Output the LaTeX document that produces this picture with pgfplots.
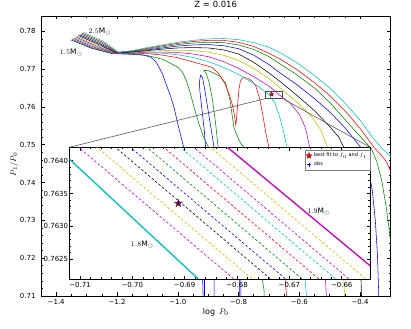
\documentclass[border=0pt]{standalone}
\usepackage{fontspec}
\setmainfont{DejaVu Sans}
\usepackage{pgfplots}
\pgfplotsset{compat=1.18}

\definecolor{mb}{rgb}{0,0,1}
\definecolor{mg}{rgb}{0,0.5,0}
\definecolor{mr}{rgb}{1,0,0}
\definecolor{mc}{rgb}{0,0.75,0.75}
\definecolor{mm}{rgb}{0.75,0,0.75}
\definecolor{my}{rgb}{0.75,0.75,0}
\definecolor{mk}{rgb}{0,0,0}

% filled five-point star
\pgfdeclareplotmark{fstar}{%
  \pgfpathmoveto{\pgfpointpolar{90}{\pgfplotmarksize}}%
  \pgfpathlineto{\pgfpointpolar{126}{0.4\pgfplotmarksize}}%
  \pgfpathlineto{\pgfpointpolar{162}{\pgfplotmarksize}}%
  \pgfpathlineto{\pgfpointpolar{198}{0.4\pgfplotmarksize}}%
  \pgfpathlineto{\pgfpointpolar{234}{\pgfplotmarksize}}%
  \pgfpathlineto{\pgfpointpolar{270}{0.4\pgfplotmarksize}}%
  \pgfpathlineto{\pgfpointpolar{306}{\pgfplotmarksize}}%
  \pgfpathlineto{\pgfpointpolar{342}{0.4\pgfplotmarksize}}%
  \pgfpathlineto{\pgfpointpolar{18}{\pgfplotmarksize}}%
  \pgfpathlineto{\pgfpointpolar{54}{0.4\pgfplotmarksize}}%
  \pgfpathclose
  \pgfusepathqfillstroke}

\pgfplotsset{
  mplax/.style={
    scale only axis,
    anchor=south west,
    tick align=inside,
    major tick length=3.5bp,
    minor tick length=2bp,
    tick style={black, line width=0.5pt},
    axis line style={black, line width=0.8pt},
    ticklabel style={font=\fontsize{7}{8}\selectfont},
  },
  trk/.style={line width=0.55pt},
}

\begin{document}
\begin{tikzpicture}
\path[use as bounding box] (0,0) rectangle (411bp,329bp);

\begin{axis}[mplax, name=main,
  at={(41bp,33bp)}, width=349.5bp, height=280bp,
  xmin=-1.45, xmax=-0.30, ymin=0.71, ymax=0.78405,
  xtick={-1.4,-1.2,-1.0,-0.8,-0.6,-0.4},
  xticklabels={−1.4,−1.2,−1.0,−0.8,−0.6,−0.4},
  ytick={0.71,0.72,0.73,0.74,0.75,0.76,0.77,0.78},
  yticklabels={0.71,0.72,0.73,0.74,0.75,0.76,0.77,0.78},
  yticklabel style={xshift=-2bp},
  minor x tick num=3, minor y tick num=4,
  title={Z = 0.016},
  title style={font=\fontsize{8.5}{9}\selectfont, at={(0.5,1)}, anchor=base, yshift=2.5bp},
  xlabel={$\log\ P_0$},
  xlabel style={at={(axis description cs:0.5,-0.058)}, anchor=center, font=\fontsize{8}{9}\selectfont},
  ylabel={$P_1/P_0$},
  ylabel style={at={(axis description cs:-0.077,0.47)}, anchor=center, font=\fontsize{8.5}{9}\selectfont},
]
% 1.5
\addplot[trk, mb] coordinates {(-1.351,0.7777) (-1.283,0.7755) (-1.215,0.7741) (-1.15,0.7739) (-1.113,0.7737) (-1.0897,0.7732) (-1.0731,0.7721) (-1.0616,0.7705) (-1.05,0.7687) (-1.0368,0.7657) (-1.0236,0.7628) (-1.0127,0.7600) (-0.9971,0.7546) (-0.9796,0.7490) (-0.95,0.7350) (-0.93,0.7220) (-0.918,0.7140) (-0.915,0.7050) (-0.912,0.7050) (-0.912,0.7200) (-0.908,0.7490) (-0.913,0.7540) (-0.919,0.7583) (-0.927,0.7640) (-0.929,0.7665) (-0.925,0.7684) (-0.919,0.7679) (-0.911,0.7645) (-0.902,0.7600) (-0.892,0.7550) (-0.880,0.7490) (-0.880,0.7200) (-0.881,0.7050) (-0.797,0.7050) (-0.797,0.7250) (-0.793,0.7250) (-0.792,0.7050)};
% 1.6
\addplot[trk, mg] coordinates {(-1.347,0.7779) (-1.280,0.7756) (-1.213,0.7741) (-1.15,0.7741) (-1.10,0.7736) (-1.05,0.7726) (-1.023,0.7715) (-1.00,0.7705) (-0.985,0.7693) (-0.972,0.7670) (-0.96,0.7640) (-0.945,0.7595) (-0.93,0.7555) (-0.915,0.7520) (-0.897,0.7490) (-0.88,0.7450) (-0.862,0.7450) (-0.864,0.7472) (-0.868,0.7500) (-0.876,0.7560) (-0.886,0.7620) (-0.897,0.7665) (-0.906,0.7688) (-0.914,0.7697) (-0.900,0.7696) (-0.885,0.7691) (-0.859,0.7680) (-0.842,0.7662) (-0.828,0.7617) (-0.815,0.7545) (-0.798,0.7511) (-0.781,0.7490) (-0.75,0.7300) (-0.725,0.7160) (-0.716,0.7115) (-0.714,0.7050)};
% 1.7
\addplot[trk, mr] coordinates {(-1.343,0.7781) (-1.277,0.7758) (-1.211,0.7742) (-1.15,0.7742) (-1.10,0.7741) (-1.05,0.7737) (-1.00,0.7730) (-0.95,0.7719) (-0.91,0.7710) (-0.886,0.7704) (-0.865,0.7688) (-0.845,0.7662) (-0.83,0.7632) (-0.820,0.7605) (-0.813,0.7575) (-0.809,0.7552) (-0.806,0.7575) (-0.803,0.7605) (-0.799,0.7645) (-0.794,0.7668) (-0.785,0.7678) (-0.77,0.7676) (-0.755,0.7668) (-0.743,0.7655) (-0.73,0.7620) (-0.72,0.7578) (-0.71,0.7530) (-0.70,0.7494) (-0.685,0.7420) (-0.67,0.7330) (-0.657,0.7240) (-0.648,0.7160) (-0.643,0.7110) (-0.641,0.7050)};
% 1.8
\addplot[trk, mc] coordinates {(-1.339,0.7783) (-1.274,0.7760) (-1.209,0.7742) (-1.15,0.7742) (-1.10,0.7743) (-1.05,0.7742) (-1.00,0.7738) (-0.95,0.7731) (-0.90,0.7720) (-0.85,0.7705) (-0.80,0.7686) (-0.75,0.7662) (-0.72,0.7645) (-0.70,0.7632) (-0.68,0.7610) (-0.665,0.7575) (-0.652,0.7535) (-0.641,0.7494) (-0.625,0.7420) (-0.608,0.7320) (-0.593,0.7230) (-0.583,0.7160) (-0.577,0.7105) (-0.575,0.7050)};
% 1.9
\addplot[trk, mm] coordinates {(-1.335,0.7785) (-1.270,0.7762) (-1.207,0.7742) (-1.15,0.7743) (-1.10,0.7745) (-1.05,0.7745) (-1.00,0.7744) (-0.95,0.7740) (-0.90,0.7733) (-0.85,0.7720) (-0.80,0.7702) (-0.75,0.7680) (-0.70,0.7655) (-0.68,0.7642) (-0.66,0.7628) (-0.63,0.7610) (-0.60,0.7580) (-0.58,0.7545) (-0.566,0.7494) (-0.55,0.7430) (-0.535,0.7340) (-0.522,0.7240) (-0.515,0.7160) (-0.511,0.7100) (-0.510,0.7050)};
% 2.0
\addplot[trk, my] coordinates {(-1.331,0.7787) (-1.266,0.7764) (-1.205,0.7743) (-1.15,0.7744) (-1.10,0.7747) (-1.05,0.7749) (-1.00,0.7750) (-0.95,0.7749) (-0.90,0.7745) (-0.85,0.7737) (-0.80,0.7723) (-0.75,0.7702) (-0.70,0.7675) (-0.66,0.7648) (-0.61,0.7614) (-0.56,0.7575) (-0.53,0.7540) (-0.506,0.7490) (-0.49,0.7430) (-0.475,0.7350) (-0.463,0.7260) (-0.456,0.7180) (-0.452,0.7110) (-0.451,0.7050)};
% 2.1
\addplot[trk, mk] coordinates {(-1.327,0.7789) (-1.262,0.7766) (-1.203,0.7743) (-1.15,0.7745) (-1.10,0.7749) (-1.05,0.7753) (-1.00,0.7756) (-0.95,0.7757) (-0.90,0.7756) (-0.85,0.7751) (-0.80,0.7740) (-0.75,0.7718) (-0.70,0.7690) (-0.66,0.7665) (-0.61,0.7632) (-0.55,0.7590) (-0.50,0.7548) (-0.47,0.7520) (-0.452,0.7490) (-0.435,0.7440) (-0.42,0.7370) (-0.408,0.7280) (-0.400,0.7200) (-0.396,0.7120) (-0.394,0.7050)};
% 2.2
\addplot[trk, mb] coordinates {(-1.323,0.7791) (-1.258,0.7768) (-1.201,0.7743) (-1.15,0.7746) (-1.10,0.7751) (-1.05,0.7756) (-1.00,0.7761) (-0.95,0.7764) (-0.90,0.7765) (-0.85,0.7762) (-0.80,0.7754) (-0.75,0.7737) (-0.70,0.7712) (-0.66,0.7688) (-0.61,0.7660) (-0.55,0.7622) (-0.50,0.7587) (-0.45,0.7545) (-0.42,0.7515) (-0.395,0.7490) (-0.375,0.7445) (-0.36,0.7380) (-0.35,0.7300) (-0.343,0.7210) (-0.339,0.7110) (-0.337,0.7050)};
% 2.3
\addplot[trk, mg] coordinates {(-1.319,0.7793) (-1.254,0.7770) (-1.199,0.7744) (-1.15,0.7747) (-1.10,0.7753) (-1.05,0.7759) (-1.00,0.7765) (-0.95,0.7769) (-0.90,0.7771) (-0.85,0.7770) (-0.80,0.7764) (-0.75,0.7752) (-0.70,0.7733) (-0.66,0.7712) (-0.61,0.7686) (-0.55,0.7650) (-0.50,0.7612) (-0.45,0.7567) (-0.40,0.7522) (-0.363,0.7490) (-0.345,0.7455) (-0.329,0.7406) (-0.315,0.7340) (-0.307,0.7292) (-0.30,0.7247) (-0.295,0.7200)};
% 2.4
\addplot[trk, mr] coordinates {(-1.315,0.7795) (-1.250,0.7772) (-1.197,0.7744) (-1.15,0.7748) (-1.10,0.7755) (-1.05,0.7762) (-1.00,0.7768) (-0.95,0.7773) (-0.90,0.7776) (-0.85,0.7776) (-0.80,0.7771) (-0.75,0.7760) (-0.70,0.7742) (-0.66,0.7725) (-0.61,0.7700) (-0.55,0.7664) (-0.50,0.7630) (-0.45,0.7590) (-0.40,0.7543) (-0.352,0.7491) (-0.33,0.7472) (-0.313,0.7455) (-0.30,0.7430) (-0.29,0.7400)};
% 2.5
\addplot[trk, mc] coordinates {(-1.311,0.7797) (-1.246,0.7774) (-1.195,0.7745) (-1.15,0.7749) (-1.10,0.7757) (-1.05,0.7764) (-1.00,0.7771) (-0.95,0.7776) (-0.90,0.7780) (-0.85,0.7781) (-0.80,0.7778) (-0.75,0.7770) (-0.70,0.7758) (-0.66,0.7742) (-0.61,0.7718) (-0.55,0.7683) (-0.50,0.7650) (-0.45,0.7610) (-0.40,0.7565) (-0.36,0.7520) (-0.33,0.7492) (-0.30,0.7470) (-0.28,0.7440)};
% zoom box and best fit
\addplot[black!70, line width=0.7pt] coordinates {(-0.712,0.7622) (-0.6546,0.7622) (-0.6546,0.7642) (-0.712,0.7642) (-0.712,0.7622)};
\addplot[only marks, mark=fstar, mark size=2.4bp, mark options={fill=mr, draw=black!60!red, line width=0.3pt}] coordinates {(-0.6912,0.76335)};
\coordinate (rbl) at (axis cs:-0.712,0.7622);
\coordinate (rbr) at (axis cs:-0.6546,0.7622);
\node[font=\fontsize{7.5}{8}\selectfont] at (axis cs:-1.256,0.7798) {$2.5\mathrm{M}_{\odot}$};
\node[font=\fontsize{7.5}{8}\selectfont] at (axis cs:-1.351,0.7743) {$1.5\mathrm{M}_{\odot}$};
\end{axis}

\begin{axis}[mplax, name=ins,
  at={(69.3bp,50bp)}, width=300.7bp, height=131.7bp,
  axis background/.style={fill=white},
  xmin=-0.71204, xmax=-0.65459, ymin=0.76220, ymax=0.764204,
  xtick={-0.71,-0.70,-0.69,-0.68,-0.67,-0.66},
  xticklabels={−0.71,−0.70,−0.69,−0.68,−0.67,−0.66},
  ytick={0.7625,0.7630,0.7635,0.7640},
  yticklabels={0.7625,0.7630,0.7635,0.7640},
  yticklabel style={inner sep=1bp},
  minor x tick num=4, minor y tick num=4,
  legend cell align=left,
  legend style={at={(1,0.98)}, anchor=north east, font=\fontsize{5}{6}\selectfont,
    draw=black!50, inner sep=1bp, row sep=-0.5bp},
]
\addplot[forget plot, mc, line width=1.3pt] coordinates {(-0.7171,0.7644) (-0.6847,0.7620)};
\addplot[forget plot, mm, line width=0.6pt, dash pattern=on 2.5bp off 2bp] coordinates {(-0.71315,0.7644) (-0.67765,0.7620)};
\addplot[forget plot, my, line width=0.6pt, dash pattern=on 2.5bp off 2bp] coordinates {(-0.70965,0.7644) (-0.67415,0.7620)};
\addplot[forget plot, mk, line width=0.6pt, dash pattern=on 2.5bp off 2bp] coordinates {(-0.70613,0.7644) (-0.67063,0.7620)};
\addplot[forget plot, mb, line width=0.6pt, dash pattern=on 2.5bp off 2bp] coordinates {(-0.70326,0.7644) (-0.66776,0.7620)};
\addplot[forget plot, mg, line width=0.6pt, dash pattern=on 2.5bp off 2bp] coordinates {(-0.70009,0.7644) (-0.66459,0.7620)};
\addplot[forget plot, mr, line width=0.6pt, dash pattern=on 2.5bp off 2bp] coordinates {(-0.69689,0.7644) (-0.66139,0.7620)};
\addplot[forget plot, mc, line width=0.6pt, dash pattern=on 2.5bp off 2bp] coordinates {(-0.69370,0.7644) (-0.65820,0.7620)};
\addplot[forget plot, mm, line width=0.6pt, dash pattern=on 2.5bp off 2bp] coordinates {(-0.69116,0.7644) (-0.65566,0.7620)};
\addplot[forget plot, my, line width=0.6pt, dash pattern=on 2.5bp off 2bp] coordinates {(-0.68796,0.7644) (-0.65246,0.7620)};
\addplot[forget plot, mm, line width=1.3pt] coordinates {(-0.68479,0.7644) (-0.64849,0.7620)};
\addplot[forget plot, only marks, mark=fstar, mark size=4bp, mark options={fill=red!80!black, draw=black!80, line width=0.4pt}] coordinates {(-0.6912,0.76335)};
\addplot[forget plot, only marks, mark=+, mark size=1.2bp, mb, line width=0.8pt] coordinates {(-0.6912,0.76335)};
\addlegendimage{only marks, mark=fstar, mark size=3.2bp, mark options={fill=mr, draw=black!60!red, line width=0.3pt}}
\addlegendentry{best fit to $f_0$ and $f_1$}
\addlegendimage{only marks, mark=+, mark size=2bp, mb, line width=0.8pt}
\addlegendentry{obs}
\node[font=\fontsize{7.5}{8}\selectfont] at (axis cs:-0.6981,0.76272) {$1.8\mathrm{M}_{\odot}$};
\node[font=\fontsize{7.5}{8}\selectfont] at (axis cs:-0.6644,0.76322) {$1.9\mathrm{M}_{\odot}$};
\end{axis}

\draw[black!65, line width=0.6pt] (rbl) -- (ins.north west);
\draw[black!65, line width=0.6pt] (rbr) -- (ins.north east);
\end{tikzpicture}
\end{document}
